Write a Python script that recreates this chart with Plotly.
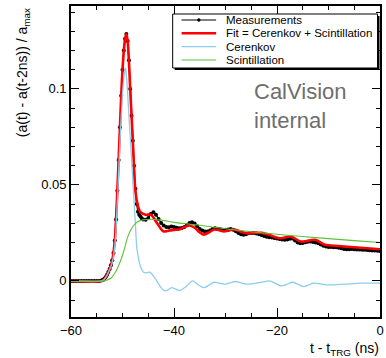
import plotly.graph_objects as go

# ---------------- data ----------------
meas_t = [-60.0, -59.5, -59.0, -58.5, -58.0, -57.5, -57.0, -56.5, -56.0, -55.5, -55.0, -54.5,
          -54.0, -53.75, -53.5, -53.25, -53.0, -52.75, -52.5, -52.25, -52.0, -51.75, -51.5, -51.25,
          -51.0, -50.75, -50.5, -50.25, -50.0, -49.75, -49.5, -49.25, -49.0, -48.75, -48.5, -48.25,
          -48.0, -47.75, -47.5, -47.25, -47.0, -46.75, -46.5, -46.25, -46.0,
          -45.5, -45.0, -44.5, -44.0, -43.5, -43.0, -42.5, -42.0, -41.5, -41.0, -40.5, -40.0,
          -39.5, -39.0, -38.5, -38.0, -37.5, -37.0, -36.5, -36.0, -35.5, -35.0, -34.5, -34.0,
          -33.5, -33.0, -32.5, -32.0, -31.5, -31.0, -30.5, -30.0, -29.5, -29.0, -28.5, -28.0,
          -27.5, -27.0, -26.5, -26.0, -25.5, -25.0, -24.5, -24.0, -23.5, -23.0, -22.5, -22.0,
          -21.5, -21.0, -20.5, -20.0, -19.5, -19.0, -18.5, -18.0, -17.5, -17.0, -16.5, -16.0,
          -15.5, -15.0, -14.5, -14.0, -13.5, -13.0, -12.5, -12.0, -11.5, -11.0, -10.5, -10.0,
          -9.5, -9.0, -8.5, -8.0, -7.5, -7.0, -6.5, -6.0, -5.5, -5.0, -4.5, -4.0,
          -3.5, -3.0, -2.5, -2.0, -1.5, -1.0, -0.5, 0.0]
meas_v = [0.0, 0.0, 0.0, 0.0, 0.0, 0.0, 0.0, 0.0, 0.0, 0.0, 0.0, 0.0,
          0.0003, 0.0006, 0.0012, 0.0020, 0.0032, 0.0046, 0.0062, 0.0082, 0.0108, 0.0145, 0.0210, 0.0320,
          0.0470, 0.0630, 0.0800, 0.0965, 0.1100, 0.1200, 0.1262, 0.1286, 0.1250, 0.1150, 0.1000, 0.0860,
          0.0730, 0.0600, 0.0480, 0.0400, 0.0360, 0.0345, 0.0335, 0.0325, 0.0320,
          0.0318, 0.0328, 0.0348, 0.0358, 0.0345, 0.0322, 0.0302, 0.0288, 0.0281, 0.0280, 0.0283, 0.0281,
          0.0277, 0.0274, 0.0275, 0.0281, 0.0291, 0.0301, 0.0305, 0.0299, 0.0285, 0.0270, 0.0262, 0.0258,
          0.0257, 0.0262, 0.0270, 0.0274, 0.0272, 0.0269, 0.0266, 0.0266, 0.0268, 0.0270, 0.0266, 0.0259,
          0.0250, 0.0243, 0.0240, 0.0243, 0.0248, 0.0249, 0.0249, 0.0247, 0.0243, 0.0239, 0.0234, 0.0230,
          0.0228, 0.0226, 0.0223, 0.0221, 0.0218, 0.0216, 0.0214, 0.0216, 0.0220, 0.0221, 0.0211, 0.0200,
          0.0196, 0.0198, 0.0201, 0.0204, 0.0205, 0.0203, 0.0200, 0.0196, 0.0190, 0.0183, 0.0179, 0.0177,
          0.0176, 0.0175, 0.0175, 0.0173, 0.0170, 0.0166, 0.0165, 0.0165, 0.0166, 0.0165, 0.0164, 0.0163,
          0.0162, 0.0162, 0.0161, 0.0160, 0.0159, 0.0158, 0.0157, 0.0156]

fit_t = [-60, -54, -53.5, -53, -52.5, -52, -51.5, -51, -50.5, -50, -49.5, -49.25, -49, -48.5, -48,
         -47.5, -47, -46.5, -45.5, -44.5, -43.5, -42.5, -42, -41, -40, -39, -38, -37, -36, -35,
         -34.2, -33.2, -32.2, -31.2, -30.3, -29.3, -28.4, -27.2, -25.9, -24.5, -23, -21.5, -19.6,
         -17.3, -15.4, -12.6, -10.7, -8.1, -5, 0]
fit_v = [0, 0, 0.001, 0.003, 0.006, 0.0105, 0.021, 0.047, 0.080, 0.110, 0.1262, 0.1286, 0.125, 0.100,
         0.073, 0.047, 0.039, 0.0358, 0.0345, 0.0345, 0.031, 0.027, 0.0258, 0.0262, 0.0266, 0.0268,
         0.0280, 0.0289, 0.0277, 0.0253, 0.0241, 0.0253, 0.0268, 0.0264, 0.0257, 0.0263, 0.0269,
         0.0258, 0.0248, 0.0250, 0.0250, 0.0240, 0.0222, 0.0231, 0.0205, 0.0214, 0.0188, 0.0182,
         0.0175, 0.0165]

cer_t = [-60, -54, -53.5, -53, -52.5, -52, -51.5, -51, -50.5, -50, -49.7, -49.4, -49.1, -48.75,
         -48.3, -47.9, -47.5, -47.2, -46.5, -45.9, -45.3, -44.7, -43.7, -42.7, -41.8, -41.1, -40.5,
         -39.7, -38.9, -37.6, -36.4, -35.3, -34.2, -33.2, -32.25, -31.3, -30.3, -29.2, -28.1, -26.9,
         -25.9, -24, -22.7, -21.5, -20.3, -19.2, -18.1, -17, -15.9, -14.8, -13.8, -12.9, -10, -6.9,
         -3.7, 0]
cer_v = [0, 0, 0.001, 0.003, 0.006, 0.0095, 0.018, 0.041, 0.072, 0.097, 0.1065, 0.111, 0.102, 0.086,
         0.066, 0.048, 0.030, 0.017, 0.0075, 0.0045, 0.0042, 0.0046, 0.0014, -0.0028, -0.0052, -0.0046,
         -0.0035, -0.0042, -0.0050, -0.0028, 0.0, -0.0020, -0.0035, -0.0022, -0.0007, -0.0011, -0.0017,
         -0.0011, -0.0003, -0.0011, -0.0017, -0.0012, -0.0005, 0.0, -0.0013, -0.0026, -0.0018, -0.0007,
         -0.0018, -0.0030, -0.0020, -0.0012, -0.0021, -0.0017, -0.0012, -0.0012]

sci_t = [-60, -53.5, -53, -52.25, -51.5, -51, -50.3, -49.6, -49.1, -48.5, -47.8, -47, -46, -44.5,
         -43, -41.8, -40, -35, -30, -25, -20, -15, -10, -5, 0]
sci_v = [0, 0, 0.0005, 0.0014, 0.004, 0.0065, 0.011, 0.017, 0.022, 0.026, 0.029, 0.031, 0.0318, 0.0321,
         0.0318, 0.0314, 0.0305, 0.0290, 0.0272, 0.0256, 0.0243, 0.0231, 0.0220, 0.0210, 0.0200]

series_names = ["Measurements", "Fit = Cerenkov + Scintillation", "Cerenkov", "Scintillation"]
x_ticks = [-60, -40, -20, 0]
y_ticks = [0, 0.05, 0.1]

# ---------------- styling ----------------
W, H = 386, 358
ML, MR, MT, MB = 71, 2, 6, 41
PW, PH = W - ML - MR, H - MT - MB
FONT = "Liberation Sans, Arial, Helvetica, sans-serif"
C_MEAS, C_FIT, C_CER, C_SCI = "black", "#ff0000", "#8ccdee", "#5cc23a"


def px(x):
    return (x - ML) / PW


def py(y):
    return (H - MB - y) / PH


fig = go.Figure()
fig.add_trace(go.Scatter(x=meas_t, y=meas_v, mode="lines+markers", name=series_names[0],
                         line=dict(color=C_MEAS, width=1.3), marker=dict(color=C_MEAS, size=4)))
fig.add_trace(go.Scatter(x=fit_t, y=fit_v, mode="lines", name=series_names[1],
                         line=dict(color=C_FIT, width=2.6, shape="spline", smoothing=0.8)))
fig.add_trace(go.Scatter(x=cer_t, y=cer_v, mode="lines", name=series_names[2],
                         line=dict(color=C_CER, width=1.3, shape="spline", smoothing=0.8)))
fig.add_trace(go.Scatter(x=sci_t, y=sci_v, mode="lines", name=series_names[3],
                         line=dict(color=C_SCI, width=1.1, shape="spline", smoothing=0.8)))

axis_common = dict(showline=True, linecolor="black", linewidth=1.8, mirror="allticks",
                   ticks="inside", tickcolor="black", showgrid=False, zeroline=False,
                   tickfont=dict(family=FONT, size=13, color="black"))
fig.update_xaxes(range=[-60, 0], tickvals=x_ticks, ticklen=9, tickwidth=1,
                 minor=dict(tickmode="linear", tick0=-60, dtick=5, ticklen=4.5, ticks="inside",
                            tickcolor="black", tickwidth=1, showgrid=False),
                 **axis_common)
fig.update_yaxes(range=[-0.0188, 0.1432], tickvals=y_ticks, ticktext=["0", "0.05", "0.1"],
                 ticklen=8, tickwidth=1,
                 minor=dict(tickmode="linear", tick0=0, dtick=0.01, ticklen=4, ticks="inside",
                            tickcolor="black", tickwidth=1, showgrid=False),
                 **axis_common)

# legend drawn as a ROOT-style box
shapes = []
shapes.append(dict(type="rect", xref="paper", yref="paper", x0=px(176), x1=px(383.5), y0=py(16), y1=py(70),
                   fillcolor="black", line=dict(width=0), layer="above"))
shapes.append(dict(type="rect", xref="paper", yref="paper", x0=px(174), x1=px(381.5), y0=py(14), y1=py(68),
                   fillcolor="white", line=dict(color="black", width=1), layer="above"))
row_y = [20, 33.3, 46.7, 60]
styles = [(C_MEAS, 1), (C_FIT, 2.6), (C_CER, 1.3), (C_SCI, 1.1)]
annotations = []
for name, yy, (col, lw) in zip(series_names, row_y, styles):
    shapes.append(dict(type="line", xref="paper", yref="paper", x0=px(183), x1=px(218), y0=py(yy), y1=py(yy),
                       line=dict(color=col, width=lw), layer="above"))
    annotations.append(dict(text=name, xref="paper", yref="paper", x=px(226), y=py(yy), xanchor="left",
                            yanchor="middle", showarrow=False,
                            font=dict(family=FONT, size=11.5, color="black")))
shapes.append(dict(type="circle", xref="paper", yref="paper", x0=px(198.8), x1=px(202.2),
                   y0=py(row_y[0] + 1.7), y1=py(row_y[0] - 1.7), fillcolor="black",
                   line=dict(width=0), layer="above"))

annotations.append(dict(text="CalVision<br>internal", xref="paper", yref="paper", x=px(254), y=py(77),
                        xanchor="left", yanchor="top", align="left", showarrow=False,
                        font=dict(family=FONT, size=22, color="#6e6e6e")))
annotations.append(dict(text="t - t<sub>TRG</sub> (ns)", xref="paper", yref="paper", x=px(385), y=py(338),
                        xanchor="right", yanchor="top", showarrow=False,
                        font=dict(family=FONT, size=14, color="black")))
annotations.append(dict(text="(a(t) - a(t-2ns)) / a<sub>max</sub>", xref="paper", yref="paper",
                        x=px(22), y=py(6), xanchor="center", yanchor="top", textangle=-90,
                        showarrow=False, font=dict(family=FONT, size=14, color="black")))

fig.update_layout(width=W, height=H, margin=dict(l=ML, r=MR, t=MT, b=MB),
                  paper_bgcolor="white", plot_bgcolor="white", showlegend=False,
                  shapes=shapes, annotations=annotations)

fig.write_html("out.html")
